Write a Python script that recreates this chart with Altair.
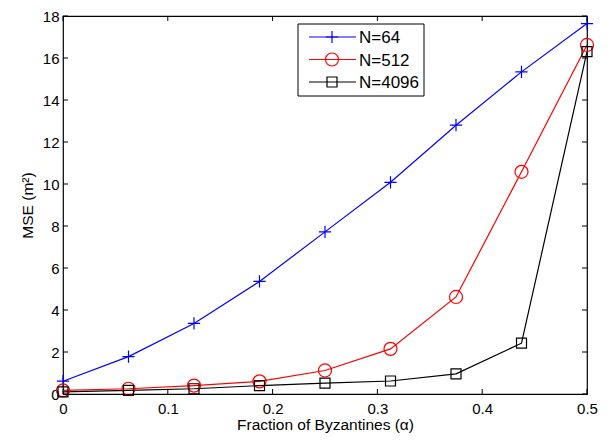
import altair as alt
import pandas as pd

# ---- data ----
alpha = [0, 0.0625, 0.125, 0.1875, 0.25, 0.3125, 0.375, 0.4375, 0.5]
series_names = ["N=64", "N=512", "N=4096"]
mse_n64 = [0.61, 1.78, 3.36, 5.36, 7.72, 10.08, 12.80, 15.34, 17.64]
mse_n512 = [0.17, 0.25, 0.40, 0.60, 1.12, 2.15, 4.62, 10.58, 16.62]
mse_n4096 = [0.10, 0.17, 0.25, 0.40, 0.52, 0.62, 0.96, 2.42, 16.30]
x_ticks = [0, 0.1, 0.2, 0.3, 0.4, 0.5]
y_ticks = [0, 2, 4, 6, 8, 10, 12, 14, 16, 18]

# ---- styling ----
colors = ["#0000ff", "#ff0000", "#000000"]
PLUS = "M-1,0L1,0M0,-1L0,1"
shapes = [PLUS, "circle", "square"]
sizes = [150, 170, 100]
FONT = "Liberation Sans"
W, H = 524, 378

rows = []
for name, vals in zip(series_names, [mse_n64, mse_n512, mse_n4096]):
    for a, v in zip(alpha, vals):
        rows.append({"alpha": a, "mse": v, "series": name})
df = pd.DataFrame(rows)

xs = alt.Scale(domain=[0, 0.5], nice=False, zero=False)
ys = alt.Scale(domain=[0, 18], nice=False, zero=False)
cs = alt.Scale(domain=series_names, range=colors)

x_enc = alt.X("alpha:Q", scale=xs, axis=alt.Axis(
    values=x_ticks, title="Fraction of Byzantines (α)", grid=False, ticks=False,
    domain=False, labelFlush=False, labelPadding=7,
    titleBaseline="alphabetic", titleY=35, format="~g"))
y_enc = alt.Y("mse:Q", scale=ys, axis=alt.Axis(
    values=y_ticks, title="MSE (m²)", grid=False, ticks=False, domain=False,
    labelPadding=4, titlePadding=7))

lines = alt.Chart(df).mark_line(strokeWidth=1.2).encode(
    x=x_enc, y=y_enc,
    color=alt.Color("series:N", scale=cs, legend=None),
    detail="series:N",
)

pts = []
for name, col, shp, sz in zip(series_names, colors, shapes, sizes):
    pts.append(
        alt.Chart(df).transform_filter(alt.datum.series == name)
        .mark_point(filled=False, stroke=col, strokeWidth=1.2, shape=shp, size=sz, opacity=1)
        .encode(x=alt.X("alpha:Q", scale=xs), y=alt.Y("mse:Q", scale=ys))
    )

# inward tick marks (box style)
xt = pd.DataFrame({"t": x_ticks})
yt = pd.DataFrame({"t": y_ticks})
tick_style = dict(color="black", strokeWidth=1)
xb = alt.Chart(xt).mark_rule(**tick_style).encode(
    x=alt.X("t:Q", scale=xs), y=alt.value(H), y2=alt.value(H - 5))
xtop = alt.Chart(xt).mark_rule(**tick_style).encode(
    x=alt.X("t:Q", scale=xs), y=alt.value(0), y2=alt.value(5))
yl = alt.Chart(yt).mark_rule(**tick_style).encode(
    y=alt.Y("t:Q", scale=ys), x=alt.value(0), x2=alt.value(5))
yr = alt.Chart(yt).mark_rule(**tick_style).encode(
    y=alt.Y("t:Q", scale=ys), x=alt.value(W), x2=alt.value(W - 5))

# legend drawn manually
leg_df = pd.DataFrame({"label": ["box"]})
box = alt.Chart(leg_df).mark_rect(fill="white", stroke="black", strokeWidth=1).encode(
    x=alt.value(235), x2=alt.value(361), y=alt.value(8), y2=alt.value(80))
legend_layers = [box]
for i, (name, col, shp, sz) in enumerate(zip(series_names, colors, shapes, sizes)):
    ly = 21 + i * 22.5
    d = pd.DataFrame({"label": [name]})
    legend_layers.append(alt.Chart(d).mark_rule(color=col, strokeWidth=1.2).encode(
        x=alt.value(246), x2=alt.value(293), y=alt.value(ly)))
    legend_layers.append(alt.Chart(d).mark_point(
        filled=False, stroke=col, strokeWidth=1.2, shape=shp, size=sz, opacity=1).encode(
        x=alt.value(269), y=alt.value(ly)))
    legend_layers.append(alt.Chart(d).mark_text(
        align="left", baseline="middle", font=FONT, fontSize=17, color="black").encode(
        x=alt.value(296), y=alt.value(ly + 1), text="label:N"))

chart = alt.layer(lines, *pts, xb, xtop, yl, yr, *legend_layers).properties(
    width=W, height=H,
    autosize=alt.AutoSizeParams(type="none"),
    padding={"left": 55, "top": 8, "right": 16, "bottom": 39},
).configure_view(
    stroke="black", strokeWidth=1.2
).configure_axis(
    labelFont=FONT, labelFontSize=15, labelColor="black",
    titleFont=FONT, titleFontSize=15.5, titleColor="black", titleFontWeight="normal",
)

chart.save("out.html", embed_options={"renderer": "svg", "actions": False})
